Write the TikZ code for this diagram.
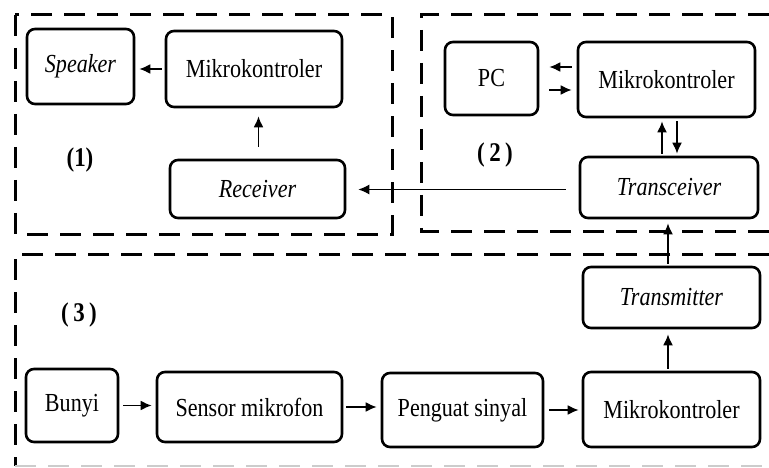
\documentclass[tikz,border=0pt]{standalone}
\usepackage{fontspec}
\setmainfont{Liberation Serif}[FakeStretch=0.85]
\usetikzlibrary{arrows.meta}
\begin{document}
\begin{tikzpicture}[x=1pt,y=-1pt,
  blk/.style={draw,line width=2.6pt,rounded corners=8pt,inner sep=0pt,
    font=\fontsize{26}{28}\selectfont},
  arr/.style={line width=1.8pt,-{Latex[length=11pt,width=10pt]}},
  grp/.style={line width=3pt,dash pattern=on 21pt off 12pt},
  lbl/.style={font=\fontsize{27}{29}\selectfont\bfseries}]
\useasboundingbox (0,0) rectangle (769,468);
% group frames
\draw[grp] (15,15) rectangle (392,234);
\draw[grp] (769,15) -- (421,15) -- (421,231) -- (769,231);
\draw[grp] (769,254) -- (15,254) -- (15,466);
\draw[grp,black!20,line width=2pt] (15,466) -- (769,466);
% group 1
\node[blk,minimum width=107pt,minimum height=75pt] (spk) at (80.5,66.5) {\itshape Speaker};
\node[blk,minimum width=176pt,minimum height=76pt] (mk1) at (254,69) {Mikrokontroler};
\node[blk,minimum width=175pt,minimum height=58pt] (rcv) at (257.5,189) {\itshape Receiver};
\node[lbl] (l1) at (80,160) {(1)};
% group 2
\node[blk,minimum width=93pt,minimum height=73pt] (pc) at (491.5,78.5) {PC};
\node[blk,minimum width=177pt,minimum height=75pt] (mk2) at (666.5,79.5) {Mikrokontroler};
\node[blk,minimum width=178pt,minimum height=61pt] (trc) at (669,187.5) {\itshape Transceiver};
\node[lbl] (l2) at (495,155) {(\,2\,)};
% group 3
\node[blk,minimum width=177pt,minimum height=61pt] (trm) at (671.5,297.5) {\itshape Transmitter};
\node[blk,minimum width=177pt,minimum height=75pt] (mk3) at (671.5,409.5) {Mikrokontroler};
\node[blk,minimum width=161pt,minimum height=74pt] (pgs) at (462.5,410) {Penguat sinyal};
\node[blk,minimum width=185pt,minimum height=70pt] (sns) at (249.5,407) {Sensor mikrofon};
\node[blk,minimum width=92pt,minimum height=73pt] (bny) at (72,405.5) {Bunyi};
\node[lbl] (l3) at (79,315) {(\,3\,)};
% connectors
\draw[arr,shorten <=3pt,shorten >=4pt] (mk1.west) -- (mk1.west -| spk.east);
\draw[arr,shorten <=12pt,shorten >=8pt] ([xshift=1pt]rcv.north) -- ([xshift=1pt]rcv.north |- mk1.south);
\draw[arr,shorten <=5pt,shorten >=10pt] ([yshift=12.5pt]mk2.west) -- ([yshift=12.5pt]mk2.west -| pc.east);
\draw[arr,shorten <=10pt,shorten >=5pt] ([yshift=-11.5pt]pc.east) -- ([yshift=-11.5pt]pc.east -| mk2.west);
\draw[arr,shorten <=2pt,shorten >=3pt] ([xshift=-7pt]trc.north) -- ([xshift=-7pt]trc.north |- mk2.south);
\draw[arr,shorten <=3pt,shorten >=2pt] ([xshift=8pt]trc.north |- mk2.south) -- ([xshift=8pt]trc.north);
\draw[line width=1.3pt,-{Latex[length=11pt,width=10pt]},shorten <=13pt,shorten >=12pt] ([yshift=-2pt]trc.west) -- ([yshift=-2pt]trc.west -| rcv.east);
\draw[arr,shorten <=2pt,shorten >=4pt] ([xshift=-3.5pt]trm.north) -- ([xshift=-3.5pt]trm.north |- trc.south);
\draw[arr,shorten <=2pt,shorten >=5pt] ([xshift=-3.5pt]mk3.north) -- ([xshift=-3.5pt]mk3.north |- trm.south);
\draw[arr,shorten <=4pt,shorten >=4pt] (bny.east) -- (bny.east -| sns.west);
\draw[arr,shorten <=3pt,shorten >=4pt] (sns.east) -- (sns.east -| pgs.west);
\draw[arr,shorten <=5pt,shorten >=3pt] (pgs.east) -- (pgs.east -| mk3.west);
\end{tikzpicture}
\end{document}
